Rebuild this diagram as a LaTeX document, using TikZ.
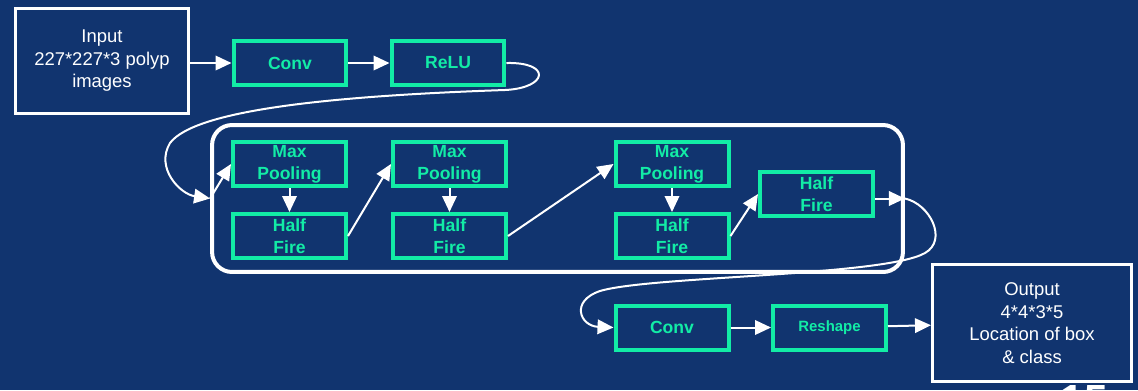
\documentclass[tikz,border=0pt]{standalone}
\usepackage{fontspec}
\setmainfont{Liberation Sans}
\usetikzlibrary{arrows.meta,positioning}
\definecolor{slidebg}{RGB}{17,52,111}
\definecolor{layergreen}{RGB}{18,236,166}
\tikzset{
    layerbox/.style={draw=layergreen,line width=0.08cm,text=layergreen,font=\fontsize{10}{12.7}\selectfont\bfseries,
                     align=center,minimum width=2.26cm,minimum height=0.88cm,inner sep=0pt},
    iobox/.style={draw=white,line width=0.06cm,text=white,font=\fontsize{10.5}{12.8}\selectfont,align=center,inner sep=0pt},
    stagebox/.style={draw=white,line width=0.08cm,rounded corners=0.4cm,minimum width=13.82cm,minimum height=2.94cm},
    flow/.style={draw=white,line width=0.04cm,-{Triangle[length=0.32cm,width=0.29cm]}},
    every node/.style={font=\small}
}

\begin{document}
\begin{tikzpicture}[x=0.02cm,y=-0.02cm]
  \fill[slidebg] (0,0) rectangle (1138,390);
  \useasboundingbox (0,0) rectangle (1138,390);

  % input part
  \node[iobox,minimum width=3.46cm,minimum height=2.1cm] (input) at (102,61) {Input\\227*227*3 polyp\\images};
  \node[layerbox] (conv1) at (290,63) {Conv};
  \node[layerbox] (relu)  at (448,63) {ReLU};

  % the fire stages
  \node[stagebox] (stage) at (557.5,198.5) {};
  \node[layerbox] (max1)  at (289.5,164) {Max\\Pooling};
  \node[layerbox] (half1) at (289.5,236) {Half\\Fire};
  \node[layerbox] (max2)  at (449.5,164) {Max\\Pooling};
  \node[layerbox] (half2) at (449.5,236) {Half\\Fire};
  \node[layerbox] (max3)  at (672,164)   {Max\\Pooling};
  \node[layerbox] (half3) at (672,236)   {Half\\Fire};
  \node[layerbox] (half4) at (816.5,194) {Half\\Fire};

  % output part
  \node[layerbox] (conv2)   at (672,327.5)   {Conv};
  \node[layerbox,font=\fontsize{8.5}{10}\selectfont\bfseries] (reshape) at (829.5,327.5) {Reshape};
  \node[iobox,minimum width=3.98cm,minimum height=2.34cm] (output) at (1032,323)
       {Output\\4*4*3*5\\Location of box\\\& class};
  \node[anchor=north,inner sep=0pt,text=white,font=\fontsize{24}{24}\selectfont\bfseries] (page) at (1084,385) {15};

  % arrows
  \draw[flow] (input.east |- conv1) -- (conv1.west);
  \draw[flow] (conv1) -- (relu);
  \draw[flow] (relu.east) .. controls (552,62) and (548,88) .. (505,90)
              .. controls (330,96) and (195,110) .. (170,143)
              .. controls (155,168) and (180,194) .. (stage.west);
  \draw[flow] (stage.west) -- (max1.west);
  \draw[flow] (max1) -- (half1);
  \draw[flow] (half1.east) -- (max2.west);
  \draw[flow] (max2) -- (half2);
  \draw[flow] (half2.east) -- (max3.west);
  \draw[flow] (max3) -- (half3);
  \draw[flow] (half3.east) -- (half4.west);
  \draw[flow] (half4.east |- stage.east) -- (stage.east);
  \draw[flow] (stage.east) .. controls (930,204) and (948,240) .. (925,253)
              .. controls (885,276) and (650,276) .. (600,291)
              .. controls (570,301) and (580,326) .. (conv2.west);
  \draw[flow] (conv2) -- (reshape);
  \draw[flow] (reshape) -- (output);
\end{tikzpicture}
\end{document}
